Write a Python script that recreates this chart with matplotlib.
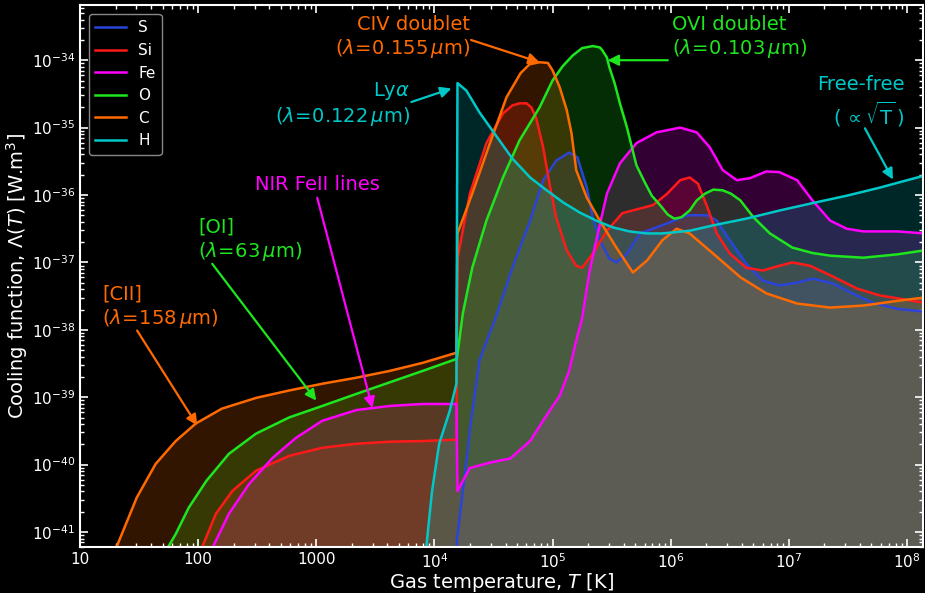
import numpy as np
import matplotlib
matplotlib.use("Agg")
import matplotlib.pyplot as plt

# ---- cooling curves: log10 T [K] and log10 Lambda [W m^3] per element ----
logT_S = [4.19, 4.19, 4.25, 4.31, 4.38, 4.53, 4.66, 4.81, 4.92, 5.03, 5.14, 5.21, 5.29, 5.34, 5.40,
          5.48, 5.54, 5.63, 5.74, 5.88, 5.97, 6.14, 6.31, 6.39, 6.50, 6.64, 6.78, 6.92, 7.07, 7.20,
          7.37, 7.54, 7.71, 7.92, 8.15]
logL_S = [-41.4, -41.13, -40.24, -39.35, -38.46, -37.76, -37.08, -36.38, -35.78, -35.49, -35.37, -35.44,
          -35.89, -36.33, -36.67, -36.94, -37.00, -36.87, -36.57, -36.48, -36.42, -36.30, -36.30, -36.38,
          -36.67, -37.02, -37.27, -37.34, -37.30, -37.24, -37.31, -37.46, -37.60, -37.69, -37.73]

logT_Si = [2.03, 2.15, 2.29, 2.49, 2.77, 3.05, 3.34, 3.62, 3.90, 4.186, 4.195, 4.30, 4.44, 4.58, 4.66,
           4.72, 4.78, 4.82, 4.86, 4.92, 4.98, 5.03, 5.12, 5.20, 5.25, 5.34, 5.46, 5.59, 5.74, 5.85,
           5.97, 6.08, 6.16, 6.23, 6.31, 6.39, 6.50, 6.64, 6.78, 6.92, 7.03, 7.18, 7.35, 7.58, 7.77,
           8.05, 8.15]
logL_Si = [-41.24, -40.73, -40.39, -40.09, -39.87, -39.75, -39.69, -39.66, -39.65, -39.63, -36.94,
           -35.98, -35.23, -34.79, -34.67, -34.64, -34.64, -34.70, -34.85, -35.29, -35.89, -36.33,
           -36.82, -37.05, -37.08, -36.87, -36.53, -36.27, -36.20, -36.15, -35.98, -35.78, -35.74,
           -35.83, -36.18, -36.57, -36.87, -37.08, -37.12, -37.05, -37.00, -37.05, -37.19, -37.39,
           -37.49, -37.57, -37.60]

logT_Fe = [2.12, 2.26, 2.43, 2.63, 2.83, 3.05, 3.34, 3.62, 3.90, 4.186, 4.195, 4.30, 4.47, 4.64, 4.81,
           4.93, 5.06, 5.14, 5.20, 5.25, 5.31, 5.37, 5.46, 5.57, 5.71, 5.88, 6.08, 6.22, 6.33, 6.44,
           6.56, 6.67, 6.81, 6.92, 7.07, 7.20, 7.35, 7.49, 7.63, 7.92, 8.15]
logL_Fe = [-41.24, -40.73, -40.29, -39.90, -39.60, -39.35, -39.19, -39.13, -39.10, -39.10, -40.39,
           -40.05, -39.97, -39.91, -39.65, -39.32, -38.98, -38.61, -38.16, -37.83, -37.16, -36.67,
           -35.98, -35.53, -35.23, -35.07, -35.00, -35.07, -35.29, -35.63, -35.78, -35.75, -35.65,
           -35.66, -35.78, -36.08, -36.38, -36.50, -36.54, -36.54, -36.57]

logT_O = [1.74, 1.81, 1.92, 2.07, 2.26, 2.49, 2.77, 3.05, 3.34, 3.62, 3.90, 4.19, 4.24, 4.32, 4.44,
          4.58, 4.72, 4.89, 5.00, 5.085, 5.17, 5.25, 5.34, 5.40, 5.42, 5.46, 5.48, 5.525, 5.57, 5.63,
          5.71, 5.78, 5.84, 5.91, 5.975, 6.03, 6.09, 6.16, 6.22, 6.29, 6.36, 6.44, 6.51, 6.59, 6.70,
          6.84, 7.03, 7.20, 7.35, 7.63, 7.92, 8.15]
logL_O = [-41.24, -41.03, -40.64, -40.24, -39.84, -39.54, -39.30, -39.13, -38.95, -38.78, -38.61,
          -38.43, -37.76, -37.08, -36.38, -35.74, -35.19, -34.70, -34.30, -34.09, -33.93, -33.82,
          -33.79, -33.81, -33.85, -33.96, -34.10, -34.34, -34.64, -35.00, -35.56, -35.81, -36.01,
          -36.15, -36.29, -36.35, -36.33, -36.23, -36.08, -35.98, -35.92, -35.93, -35.98, -36.08,
          -36.33, -36.57, -36.78, -36.86, -36.90, -36.93, -36.88, -36.82]

logT_C = [1.305, 1.48, 1.64, 1.81, 1.98, 2.20, 2.49, 2.77, 3.05, 3.34, 3.62, 3.90, 4.186, 4.195, 4.32,
          4.47, 4.61, 4.73, 4.805, 4.89, 4.96, 5.00, 5.06, 5.12, 5.16, 5.20, 5.29, 5.40, 5.54, 5.68,
          5.80, 5.93, 6.05, 6.16, 6.36, 6.59, 6.81, 7.07, 7.35, 7.63, 7.92, 8.15]
logL_C = [-41.24, -40.49, -39.99, -39.65, -39.39, -39.17, -39.01, -38.90, -38.80, -38.71, -38.61,
          -38.49, -38.34, -36.57, -35.98, -35.23, -34.55, -34.19, -34.06, -34.03, -34.04, -34.15,
          -34.40, -34.74, -35.08, -35.63, -36.04, -36.38, -36.78, -37.15, -36.97, -36.67, -36.50,
          -36.57, -36.87, -37.22, -37.46, -37.61, -37.67, -37.64, -37.57, -37.52]

logT_H = [3.93, 3.98, 4.04, 4.13, 4.186, 4.195, 4.27, 4.38, 4.53, 4.66, 4.81, 4.95, 5.09, 5.23, 5.37,
          5.51, 5.65, 5.80, 5.93, 6.16, 6.36, 6.64, 6.92, 7.20, 7.49, 7.77, 8.15]
logL_H = [-41.24, -40.39, -39.69, -39.20, -38.80, -34.34, -34.45, -34.77, -35.14, -35.46, -35.74,
          -35.93, -36.11, -36.26, -36.38, -36.48, -36.54, -36.57, -36.57, -36.53, -36.45, -36.35,
          -36.23, -36.12, -36.01, -35.89, -35.71]

elements = ["S", "Si", "Fe", "O", "C", "H"]
colors = {"S": "#2b44d8", "Si": "#ff1a1a", "Fe": "#ff00ff",
          "O": "#1ee61e", "C": "#ff6a00", "H": "#00c8c8"}
curves = {"S": (logT_S, logL_S), "Si": (logT_Si, logL_Si), "Fe": (logT_Fe, logL_Fe),
          "O": (logT_O, logL_O), "C": (logT_C, logL_C), "H": (logT_H, logL_H)}

x_ticks = [1e1, 1e2, 1e3, 1e4, 1e5, 1e6, 1e7, 1e8]
x_ticklabels = ["10", "100", "1000", r"$10^4$", r"$10^5$", r"$10^6$", r"$10^7$", r"$10^8$"]
y_ticks = [1e-41, 1e-40, 1e-39, 1e-38, 1e-37, 1e-36, 1e-35, 1e-34]
y_ticklabels = [r"$10^{-41}$", r"$10^{-40}$", r"$10^{-39}$", r"$10^{-38}$",
                r"$10^{-37}$", r"$10^{-36}$", r"$10^{-35}$", r"$10^{-34}$"]

fig = plt.figure(figsize=(9.25, 5.93), dpi=100, facecolor="black")
ax = fig.add_axes([0.0865, 0.0776, 0.9115, 0.914])
ax.set_facecolor("black")

floor = 1e-45
for el in elements:
    lt, ll = curves[el]
    T = 10 ** np.asarray(lt)
    L = 10 ** np.asarray(ll)
    c = colors[el]
    ax.fill_between(T, L, floor, color=c, alpha=0.2, lw=0)
    ax.plot(T, L, color=c, lw=1.8, label=el, solid_joinstyle="round")

ax.set_xscale("log")
ax.set_yscale("log")
ax.set_xlim(10, 1.37e8)
ax.set_ylim(6e-42, 6.6e-34)

ax.set_xticks(x_ticks)
ax.set_xticklabels(x_ticklabels)
ax.set_yticks(y_ticks)
ax.set_yticklabels(y_ticklabels)
ax.xaxis.set_minor_locator(matplotlib.ticker.LogLocator(base=10, subs=np.arange(2, 10), numticks=20))
ax.yaxis.set_minor_locator(matplotlib.ticker.LogLocator(base=10, subs=np.arange(2, 10), numticks=20))
ax.xaxis.set_minor_formatter(matplotlib.ticker.NullFormatter())
ax.yaxis.set_minor_formatter(matplotlib.ticker.NullFormatter())
ax.tick_params(which="both", direction="in", colors="white", top=True, right=True, labelsize=11)
ax.tick_params(which="major", length=6, width=1.2)
ax.tick_params(which="minor", length=3, width=1.0)
for sp in ax.spines.values():
    sp.set_color("white")
    sp.set_linewidth(1.5)

ax.set_xlabel(r"Gas temperature, $T$ [K]", color="white", fontsize=14, labelpad=0)
ax.set_ylabel(r"Cooling function, $\Lambda(T)$ [W.m$^3$]", color="white", fontsize=14, labelpad=1)

leg = ax.legend(loc="upper left", fontsize=11, facecolor="black", edgecolor="#888888",
                framealpha=1, labelcolor="white", borderaxespad=0.6)
leg.get_frame().set_linewidth(1.0)

def arrow(tail, tip, color):
    ax.annotate("", xy=tip, xytext=tail,
                arrowprops=dict(arrowstyle="-|>", color=color, lw=1.6, mutation_scale=16,
                                shrinkA=0, shrinkB=0))

fs = 14
# CIV doublet
ax.text(10 ** 4.30, 10 ** -33.66, "CIV doublet\n" + r"($\lambda\!=\!0.155\,\mu$m)",
        color=colors["C"], fontsize=fs, ha="right", va="center", multialignment="right")
arrow((10 ** 4.31, 10 ** -33.70), (10 ** 4.89, 10 ** -34.03), colors["C"])
# OVI doublet
ax.text(10 ** 6.01, 10 ** -33.66, "OVI doublet\n" + r"($\lambda\!=\!0.103\,\mu$m)",
        color=colors["O"], fontsize=fs, ha="left", va="center", multialignment="left")
arrow((10 ** 5.975, 10 ** -34.0), (10 ** 5.466, 10 ** -34.0), colors["O"])
# Lyman alpha
ax.text(10 ** 3.79, 10 ** -34.65, r"Ly$\alpha$" + "\n" + r"($\lambda\!=\!0.122\,\mu$m)",
        color=colors["H"], fontsize=fs, ha="right", va="center", multialignment="right")
arrow((10 ** 3.805, 10 ** -34.62), (10 ** 4.144, 10 ** -34.42), colors["H"])
# Free-free
ax.text(10 ** 7.98, 10 ** -34.62, "Free-free\n" + r"($\,\propto\sqrt{\mathrm{T}}\,$)",
        color=colors["H"], fontsize=fs, ha="right", va="center", multialignment="right")
arrow((10 ** 7.644, 10 ** -35.01), (10 ** 7.881, 10 ** -35.77), colors["H"])
# NIR FeII
ax.text(10 ** 3.01, 10 ** -35.84, "NIR FeII lines", color=colors["Fe"], fontsize=fs,
        ha="center", va="center")
arrow((10 ** 3.008, 10 ** -36.04), (10 ** 3.475, 10 ** -39.16), colors["Fe"])
# [OI]
ax.text(10 ** 2.0, 10 ** -36.67, "[OI]\n" + r"($\lambda\!=\!63\,\mu$m)",
        color=colors["O"], fontsize=fs, ha="left", va="center", multialignment="left")
arrow((10 ** 2.119, 10 ** -37.02), (10 ** 3.0, 10 ** -39.05), colors["O"])
# [CII]
ax.text(10 ** 1.19, 10 ** -37.67, "[CII]\n" + r"($\lambda\!=\!158\,\mu$m)",
        color=colors["C"], fontsize=fs, ha="left", va="center", multialignment="left")
arrow((10 ** 1.483, 10 ** -38.01), (10 ** 1.992, 10 ** -39.42), colors["C"])

fig.savefig("out.png", dpi=100, facecolor="black")
